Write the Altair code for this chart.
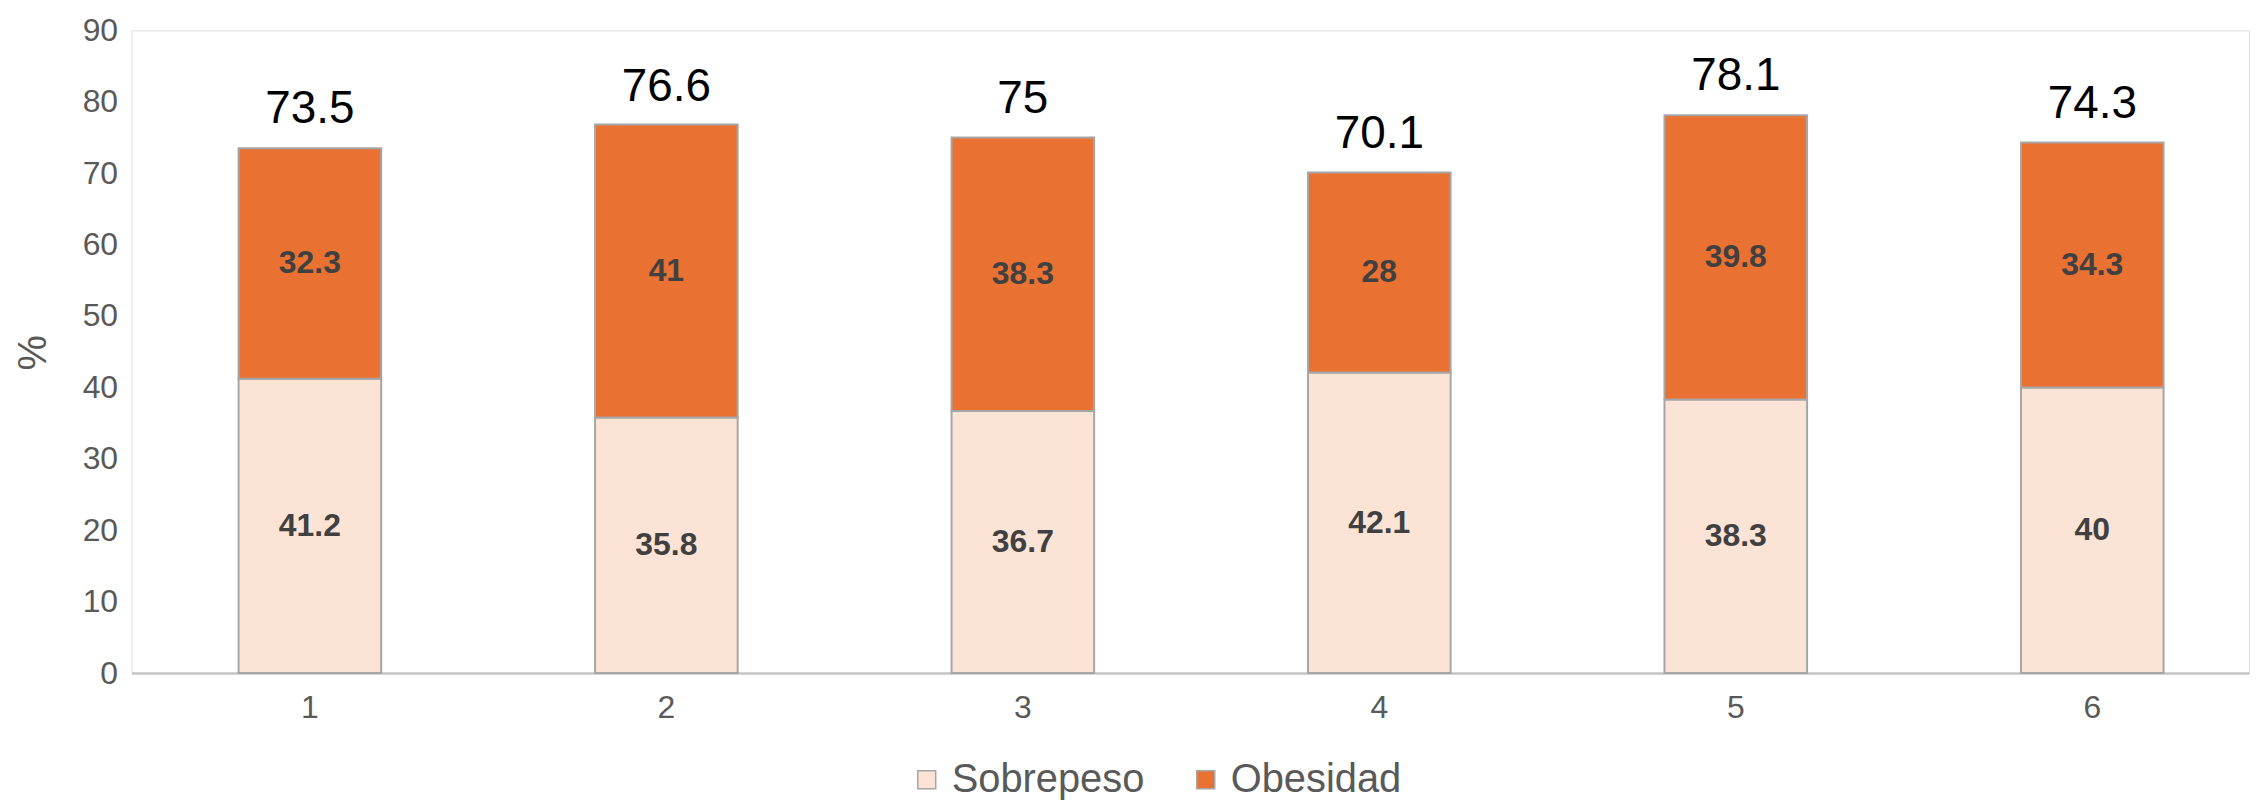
import altair as alt
import pandas as pd

# ---- data ----
grupos = ["1", "2", "3", "4", "5", "6"]
sobrepeso = [41.2, 35.8, 36.7, 42.1, 38.3, 40]
obesidad = [32.3, 41, 38.3, 28, 39.8, 34.3]
totales = [73.5, 76.6, 75, 70.1, 78.1, 74.3]
series = ["Sobrepeso", "Obesidad"]
colores = ["#FBE3D6", "#E97132"]
y_ticks = [0, 10, 20, 30, 40, 50, 60, 70, 80, 90]

rows = []
for g, s, o in zip(grupos, sobrepeso, obesidad):
    rows.append(dict(grupo=g, serie="Sobrepeso", y0=0, y1=s, mid=s / 2, etiqueta=f"{s:g}"))
    rows.append(dict(grupo=g, serie="Obesidad", y0=s, y1=s + o, mid=s + o / 2, etiqueta=f"{o:g}"))
df = pd.DataFrame(rows)
tot = pd.DataFrame(dict(grupo=grupos, total=totales, etiqueta=[f"{t:g}" for t in totales]))

FONT = "Liberation Sans"
GRAY = "#595959"

x_enc = alt.X(
    "grupo:N",
    sort=grupos,
    scale=alt.Scale(paddingInner=0.6, paddingOuter=0.27, align=0.556),
    axis=alt.Axis(
        title=None, labelAngle=0, labelFontSize=32, labelColor=GRAY, labelFont=FONT,
        labelPadding=20, ticks=False, domainColor="#C4C4C4", domainWidth=2.5, grid=False,
    ),
)

y_scale = alt.Scale(domain=[0, 90], nice=False)

bars = alt.Chart(df).mark_bar(stroke="#A6A6A6", strokeWidth=2).encode(
    x=x_enc,
    y=alt.Y(
        "y1:Q",
        scale=y_scale,
        axis=alt.Axis(
            values=y_ticks, grid=False, domain=False, ticks=False,
            labelFontSize=32, labelColor=GRAY, labelFont=FONT, labelPadding=14,
            title="%", titleFontSize=40, titleColor=GRAY, titleFont=FONT,
            titleFontWeight="normal", titleAngle=270, titleX=-98, titleY=323,
            titleAlign="center", titleBaseline="middle",
        ),
    ),
    y2="y0:Q",
    color=alt.Color(
        "serie:N",
        scale=alt.Scale(domain=series, range=colores),
        legend=alt.Legend(
            title=None, orient="none", legendX=778, legendY=732, direction="horizontal",
            symbolType="square", symbolSize=324, symbolStrokeColor="#A6A6A6",
            symbolStrokeWidth=1.5, symbolOpacity=1, labelFontSize=40, labelColor=GRAY,
            labelFont=FONT, labelOffset=5, columnPadding=41, labelLimit=0,
        ),
    ),
)

inner = alt.Chart(df).mark_text(
    fontSize=32, fontWeight="bold", color="#404040", font=FONT, baseline="middle", align="center"
).encode(
    x=alt.X("grupo:N", sort=grupos),
    y=alt.Y("mid:Q", scale=y_scale),
    text="etiqueta:N",
)

totals = alt.Chart(tot).mark_text(
    fontSize=46, color="#000000", font=FONT, baseline="alphabetic", align="center", dy=-25
).encode(
    x=alt.X("grupo:N", sort=grupos),
    y=alt.Y("total:Q", scale=y_scale),
    text="etiqueta:N",
)

chart = (
    alt.layer(bars, inner, totals)
    .properties(
        width=2125,
        height=645,
        autosize=alt.AutoSizeParams(type="none"),
        padding={"left": 124, "top": 21, "right": 8, "bottom": 130},
        background="white",
    )
    .configure_view(stroke=None)
    .configure(font=FONT)
)

chart.save("out.html", embed_options={"renderer": "svg", "actions": False})
